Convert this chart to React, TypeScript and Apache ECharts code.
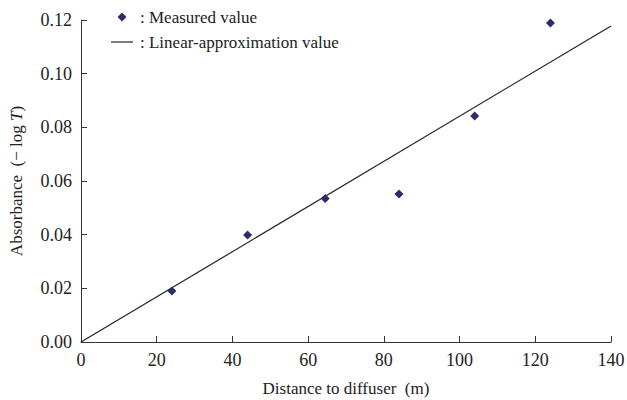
import React, { useEffect, useRef } from "react";
import * as echarts from "echarts";

const distances = [24, 44, 64.5, 84, 104, 124];
const absorbance = [0.019, 0.0399, 0.0535, 0.0552, 0.0842, 0.1189];
const fitX = [0, 140];
const fitY = [0, 0.1178];
const xTicks = [0, 20, 40, 60, 80, 100, 120, 140];
const yTicks = [0, 0.02, 0.04, 0.06, 0.08, 0.1, 0.12];
const legendLabels = [": Measured value", ": Linear-approximation value"];

const FONT = "'Liberation Serif', 'Times New Roman', serif";
const MARKER = "#2b2d6b";
const INK = "#222";

export default function App() {
  const ref = useRef<HTMLDivElement>(null);
  useEffect(() => {
    const chart = echarts.init(ref.current!, null, { renderer: "svg" });
    chart.setOption({
      animation: false,
      backgroundColor: "#fff",
      textStyle: { fontFamily: FONT, color: INK },
      graphic: [
        {
          type: "polygon",
          shape: { points: [[122, 12.5], [126.5, 17], [122, 21.5], [117.5, 17]] },
          style: { fill: MARKER },
        },
        {
          type: "text",
          x: 140,
          y: 17,
          style: { text: legendLabels[0], font: `17px ${FONT}`, fill: INK, verticalAlign: "middle" },
        },
        {
          type: "line",
          shape: { x1: 111, y1: 42, x2: 133, y2: 42 },
          style: { stroke: INK, lineWidth: 1.2 },
        },
        {
          type: "text",
          x: 140,
          y: 42,
          style: { text: legendLabels[1], font: `17px ${FONT}`, fill: INK, verticalAlign: "middle" },
        },
      ],
      grid: { left: 81, right: 16, top: 20, bottom: 58, outerBoundsMode: "none", containLabel: false },
      xAxis: {
        type: "value",
        min: xTicks[0],
        max: xTicks[xTicks.length - 1],
        interval: 20,
        name: "Distance to diffuser  (m)",
        nameLocation: "middle",
        nameGap: 38,
        nameTextStyle: { fontFamily: FONT, fontSize: 17, color: INK },
        axisLine: { lineStyle: { color: "#333", width: 1 } },
        axisTick: { inside: true, length: 6, lineStyle: { color: "#333" } },
        axisLabel: { fontFamily: FONT, fontSize: 18, color: INK, margin: 9 },
        splitLine: { show: false },
      },
      yAxis: {
        type: "value",
        min: yTicks[0],
        max: yTicks[yTicks.length - 1],
        interval: 0.02,
        name: "{a|Absorbance  (− log }{b|T}{a|)}",
        nameLocation: "middle",
        nameRotate: 90,
        nameGap: 56,
        nameTextStyle: {
          padding: [0, 0, 0, 0],
          rich: {
            a: { fontFamily: FONT, fontSize: 17, color: INK },
            b: { fontFamily: FONT, fontSize: 17, color: INK, fontStyle: "italic" },
          },
        },
        axisLine: { show: true, lineStyle: { color: "#333", width: 1 } },
        axisTick: { show: true, inside: true, length: 6, lineStyle: { color: "#333" } },
        axisLabel: {
          fontFamily: FONT,
          fontSize: 18,
          color: INK,
          margin: 9,
          formatter: (v: number) => v.toFixed(2),
        },
        splitLine: { show: false },
      },
      series: [
        {
          name: "Measured value",
          type: "scatter",
          symbol: "diamond",
          symbolSize: 9,
          itemStyle: { color: MARKER, opacity: 1 },
          data: distances.map((d, i) => [d, absorbance[i]]),
          z: 3,
        },
        {
          name: "Linear-approximation value",
          type: "line",
          symbol: "none",
          lineStyle: { color: INK, width: 1.2 },
          data: fitX.map((d, i) => [d, fitY[i]]),
          z: 2,
        },
      ],
    });
    return () => chart.dispose();
  }, []);
  return <div ref={ref} style={{ width: 627, height: 400, position: "absolute", left: 0, top: 0 }} />;
}
